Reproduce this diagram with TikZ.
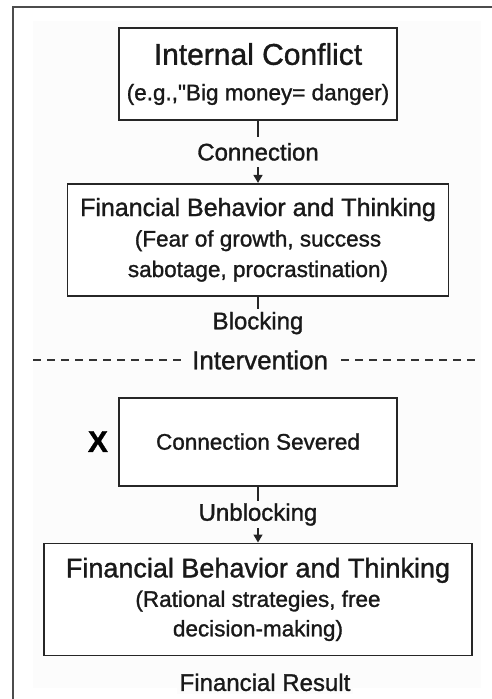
\documentclass[tikz,border=0pt]{standalone}
\usepackage{fontspec}
\setmainfont{Liberation Sans}[FakeBold=1.2]
\usetikzlibrary{arrows.meta, positioning}
\definecolor{panel}{HTML}{FCFCFC}

\begin{document}
\begin{tikzpicture}[
      x=1pt, y=1pt,
      stage/.style={rectangle, draw=black!85, line width=1.8pt, fill=white, align=center, inner sep=4pt, text=black!90, font=\fontsize{22.5}{30.5}\selectfont},
      tag/.style={fill=panel, inner sep=3pt, text=black!90, font=\fontsize{24}{28}\selectfont},
      arrow/.style={-{Triangle[width=9pt,length=8pt]}, line width=1.5pt, draw=black!85}
    ]
    % page frame and panel
    \useasboundingbox (0,0) rectangle (492,-699);
    \fill[panel] (33,-21) rectangle (481,-688);
    \draw[black!70, line width=1.5pt] (492,-7) -- (13,-7) -- (13,-699);

    \node[stage, minimum width=278pt, minimum height=92pt] (conf) at (258,-74)
      {{\fontsize{30}{30}\selectfont Internal Conflict}\\[5pt] (e.g.,\textquotedbl Big money= danger)};
    \node[stage, below=62pt of conf, minimum width=381pt, minimum height=112pt] (fb1)
      {{\fontsize{25}{30}\selectfont Financial Behavior and Thinking}\\ (Fear of growth, success\\ sabotage, procrastination)};
    \node[tag, below=12pt of fb1] (blk) {Blocking};

    \draw[arrow] (conf) -- node[tag, inner ysep=6pt] {Connection} (fb1);
    \draw[line width=1.5pt, black!85] (fb1) -- (blk);

    % dashed divider
    \coordinate (divL) at (33,-360);
    \coordinate (divR) at (480,-360);
    \draw[dash pattern=on 8pt off 6pt, line width=1.5pt, black!80] (divL) -- node[tag, pos=0.508, inner xsep=8pt, font=\fontsize{26}{30}\selectfont] (intv) {Intervention} (divR);

    \node[stage, below=100pt of fb1, minimum width=278pt, minimum height=88pt] (sev) {Connection Severed};
    \node[left=10pt of sev, inner sep=0pt, text=black, font=\fontsize{30}{30}\selectfont\bfseries] (cut) {X};
    \node[stage, below=56pt of sev, minimum width=428pt, minimum height=112pt] (fb2)
      {{\fontsize{27}{30}\selectfont Financial Behavior and Thinking}\\[-1pt] (Rational strategies, free\\[-1pt] decision-making)};
    \node[tag, below=14pt of fb2, xshift=7pt] (res) {Financial Result};

    \draw[arrow] (sev) -- node[tag, inner ysep=2pt] {Unblocking} (fb2);
  \end{tikzpicture}
\end{document}
